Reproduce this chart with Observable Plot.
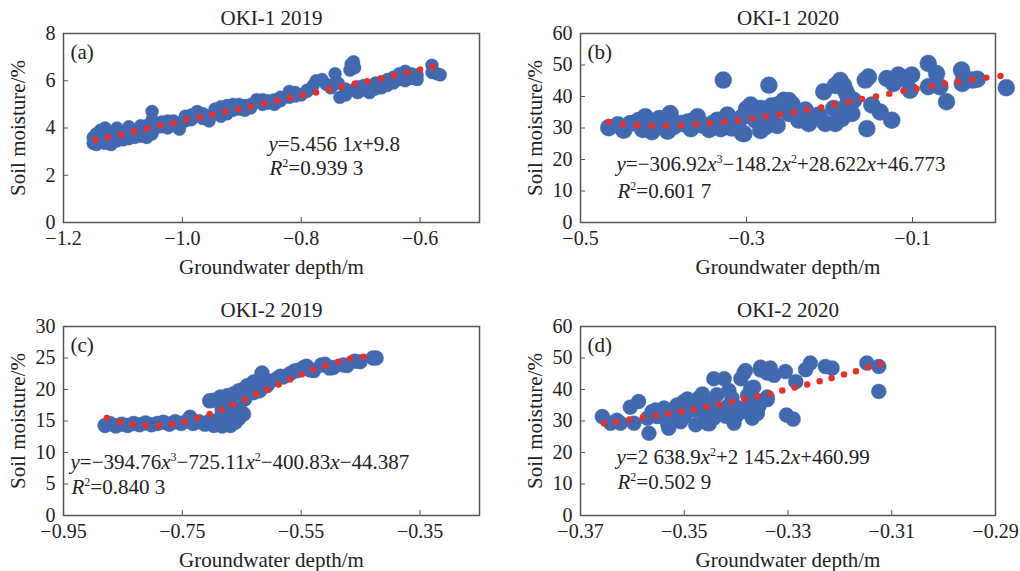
<!DOCTYPE html>
<html><head><meta charset="utf-8">
<script src="https://cdn.jsdelivr.net/npm/d3@7"></script>
<script src="https://cdn.jsdelivr.net/npm/@observablehq/plot@0.6"></script>
<style>
body{margin:0;background:#fff;}
#grid{display:grid;grid-template-columns:510px 510px;width:1020px;}
svg{display:block;}
</style></head><body><div id="grid"></div>
<script>
// ---------- Panel (a) OKI-1 2019 ----------
const a_title = "OKI-1 2019";
const a_xTicks = [-1.2, -1.0, -0.8, -0.6];
const a_yTicks = [0, 2, 4, 6, 8];
const a_points = [
  [-1.150,3.35],[-1.150,3.6],[-1.145,3.3],[-1.145,3.55],[-1.145,3.75],[-1.138,3.9],[-1.138,3.45],
  [-1.13,3.35],[-1.13,3.7],[-1.13,4.0],[-1.12,3.3],[-1.12,3.55],[-1.12,3.85],[-1.11,3.45],[-1.11,3.75],[-1.11,4.0],
  [-1.10,3.5],[-1.10,3.8],[-1.09,3.55],[-1.09,3.85],[-1.09,4.05],[-1.08,3.6],[-1.08,3.9],[-1.07,3.65],[-1.07,3.95],[-1.07,4.1],
  [-1.06,3.6],[-1.06,3.85],[-1.06,4.1],[-1.051,4.7],[-1.051,4.35],[-1.051,3.75],[-1.045,4.0],[-1.045,4.2],
  [-1.035,4.05],[-1.035,4.25],[-1.025,4.0],[-1.025,4.3],[-1.015,4.1],[-1.015,4.3],[-1.005,3.95],[-1.005,4.2],
  [-0.995,4.3],[-0.995,4.5],[-0.985,4.55],[-0.985,4.35],[-0.975,4.7],[-0.975,4.5],[-0.965,4.4],[-0.965,4.6],
  [-0.955,4.3],[-0.955,4.5],[-0.945,4.6],[-0.945,4.8],[-0.935,4.5],[-0.935,4.7],[-0.935,4.9],[-0.925,4.6],[-0.925,4.95],
  [-0.915,4.75],[-0.915,5.0],[-0.905,4.8],[-0.905,5.0],[-0.895,4.75],[-0.895,4.95],[-0.885,4.85],[-0.885,5.0],
  [-0.875,5.1],[-0.875,5.2],[-0.865,5.0],[-0.865,5.2],[-0.855,5.05],[-0.855,5.15],[-0.845,5.0],[-0.845,5.2],
  [-0.835,5.15],[-0.835,5.3],[-0.82,5.3],[-0.82,5.55],[-0.81,5.35],[-0.81,5.5],[-0.80,5.4],[-0.79,5.55],[-0.79,5.6],
  [-0.78,5.8],[-0.775,6.0],[-0.765,6.05],[-0.758,5.85],[-0.75,5.7],[-0.745,5.85],[-0.743,6.3],[-0.738,5.9],[-0.735,5.3],
  [-0.725,5.4],[-0.725,5.65],[-0.718,6.45],[-0.716,6.7],[-0.712,6.8],[-0.71,6.55],[-0.712,5.6],[-0.705,5.5],[-0.705,5.75],
  [-0.695,5.6],[-0.695,5.8],[-0.685,5.5],[-0.685,5.75],[-0.675,5.65],[-0.675,5.9],[-0.665,5.7],[-0.665,5.95],
  [-0.655,5.8],[-0.655,6.05],[-0.645,5.9],[-0.645,6.15],[-0.635,6.05],[-0.635,6.3],[-0.625,6.0],[-0.625,6.4],
  [-0.615,6.1],[-0.615,6.3],[-0.605,6.05],[-0.605,6.25],[-0.580,6.66],[-0.580,6.35],[-0.572,6.3],[-0.566,6.25]
];
const a_trend = [
  [-1.146,3.50],[-1.125,3.61],[-1.103,3.72],[-1.081,3.85],[-1.059,3.98],[-1.037,4.11],[-1.015,4.20],[-0.993,4.35],
  [-0.971,4.46],[-0.950,4.57],[-0.928,4.70],[-0.906,4.80],[-0.885,4.91],[-0.863,5.04],[-0.841,5.16],[-0.819,5.28],
  [-0.797,5.39],[-0.775,5.50],[-0.753,5.64],[-0.732,5.76],[-0.710,5.87],[-0.689,5.98],[-0.666,6.10],[-0.644,6.22],
  [-0.622,6.35],[-0.600,6.48],[-0.579,6.59]
];
const a_eq = "y=5.456 1x+9.8";
const a_r2 = "R²=0.939 3";

// ---------- Panel (b) OKI-1 2020 ----------
const b_title = "OKI-1 2020";
const b_xTicks = [-0.5, -0.3, -0.1];
const b_yTicks = [0, 10, 20, 30, 40, 50, 60];
const b_points = [
  [-0.466,30.1],[-0.455,31.0],[-0.448,29.3],[-0.440,31.4],[-0.430,32.4],[-0.425,29.5],[-0.422,33.6],[-0.414,28.8],
  [-0.408,30.9],[-0.405,33.0],[-0.400,32.5],[-0.395,29.0],[-0.392,34.6],[-0.388,30.4],[-0.378,31.4],[-0.370,32.0],
  [-0.367,29.8],[-0.359,33.6],[-0.353,30.9],[-0.345,29.5],[-0.341,31.4],[-0.335,32.5],[-0.331,29.8],[-0.328,45.2],
  [-0.323,34.1],[-0.318,30.0],[-0.311,31.4],[-0.305,28.3],[-0.305,33.5],[-0.303,28.2],[-0.300,36.0],[-0.299,35.7],
  [-0.295,37.3],[-0.292,36.5],[-0.289,32.5],[-0.283,36.2],[-0.283,29.2],[-0.279,33.5],[-0.277,30.4],[-0.273,43.6],
  [-0.270,37.0],[-0.269,35.1],[-0.263,37.3],[-0.263,30.8],[-0.255,38.8],[-0.249,38.7],[-0.249,34.6],[-0.245,37.5],
  [-0.237,32.5],[-0.229,35.7],[-0.225,31.4],[-0.213,34.1],[-0.207,41.5],[-0.205,31.4],[-0.195,36.2],[-0.193,31.4],
  [-0.193,43.5],[-0.189,44.1],[-0.187,45.1],[-0.185,33.0],[-0.183,43.5],[-0.181,42.0],[-0.179,37.3],[-0.179,40.8],
  [-0.173,34.6],[-0.171,38.8],[-0.157,45.2],[-0.155,29.8],[-0.153,46.2],[-0.149,37.3],[-0.139,35.1],[-0.131,45.7],
  [-0.125,32.5],[-0.123,44.1],[-0.117,46.8],[-0.111,45.7],[-0.103,42.0],[-0.101,46.8],[-0.081,50.5],[-0.081,43.1],
  [-0.071,47.3],[-0.067,43.1],[-0.059,38.3],[-0.041,48.4],[-0.040,44.1],[-0.038,46.2],[-0.028,45.2],[-0.022,45.5],
  [0.013,42.8]
];
const b_trend = [
  [-0.466,31.9],[-0.449,31.1],[-0.432,30.8],[-0.414,30.7],[-0.397,30.7],[-0.379,30.8],[-0.361,31.2],[-0.344,31.5],
  [-0.327,31.9],[-0.310,32.4],[-0.293,33.0],[-0.277,33.7],[-0.260,34.3],[-0.243,35.0],[-0.227,35.8],[-0.210,36.5],
  [-0.194,37.5],[-0.177,38.3],[-0.161,39.2],[-0.144,40.0],[-0.128,40.9],[-0.111,41.8],[-0.095,42.5],[-0.077,43.3],
  [-0.061,44.1],[-0.045,44.8],[-0.028,45.4],[-0.011,46.0],[0.006,46.5]
];
const b_eq = "y=−306.92x³−148.2x²+28.622x+46.773";
const b_r2 = "R²=0.601 7";

// ---------- Panel (c) OKI-2 2019 ----------
const c_title = "OKI-2 2019";
const c_xTicks = [-0.95, -0.75, -0.55, -0.35];
const c_yTicks = [0, 5, 10, 15, 20, 25, 30];
const c_points = [
  [-0.880,14.3],[-0.872,14.6],[-0.862,14.2],[-0.852,14.5],[-0.842,14.3],[-0.832,14.6],[-0.822,14.4],[-0.812,14.7],
  [-0.802,14.4],[-0.792,14.6],[-0.782,14.8],[-0.772,14.5],[-0.762,14.9],[-0.752,14.6],[-0.742,15.0],[-0.737,15.6],
  [-0.732,14.6],[-0.722,14.9],[-0.712,14.5],[-0.704,15.0],[-0.697,14.3],[-0.690,15.2],[-0.683,14.2],[-0.676,15.5],
  [-0.669,14.3],[-0.661,14.8],[-0.655,15.4],[-0.647,16.1],[-0.660,16.0],[-0.683,16.8],[-0.668,17.4],[-0.655,17.0],
  [-0.704,18.2],[-0.697,18.3],[-0.686,18.8],[-0.675,19.0],[-0.664,19.3],[-0.655,19.8],[-0.648,20.0],[-0.645,18.5],
  [-0.641,20.6],[-0.636,19.7],[-0.630,21.2],[-0.630,19.5],[-0.625,20.3],[-0.620,19.8],[-0.616,22.6],[-0.616,20.8],
  [-0.608,20.6],[-0.602,21.3],[-0.591,21.7],[-0.585,22.1],[-0.580,22.0],[-0.569,22.5],[-0.562,22.9],[-0.557,23.0],
  [-0.546,23.5],[-0.541,23.7],[-0.535,23.1],[-0.529,23.0],[-0.516,23.9],[-0.510,24.0],[-0.502,23.4],[-0.496,23.5],
  [-0.479,23.9],[-0.473,23.8],[-0.460,24.5],[-0.451,24.4],[-0.429,25.0],[-0.424,25.0]
];
const c_trend = [
  [-0.877,15.5],[-0.855,14.8],[-0.834,14.5],[-0.812,14.3],[-0.789,14.3],[-0.767,14.5],[-0.746,14.9],[-0.725,15.5],
  [-0.704,16.1],[-0.684,16.8],[-0.665,17.6],[-0.645,18.4],[-0.626,19.3],[-0.607,20.0],[-0.588,20.8],[-0.569,21.6],
  [-0.549,22.4],[-0.530,23.2],[-0.509,23.8],[-0.488,24.4],[-0.468,24.9],[-0.445,25.2]
];
const c_eq = "y=−394.76x³−725.11x²−400.83x−44.387";
const c_r2 = "R²=0.840 3";

// ---------- Panel (d) OKI-2 2020 ----------
const d_title = "OKI-2 2020";
const d_xTicks = [-0.37, -0.35, -0.33, -0.31, -0.29];
const d_yTicks = [0, 10, 20, 30, 40, 50, 60];
const d_points = [
  [-0.3658,31.4],[-0.3642,29.3],[-0.3630,30.2],[-0.3623,29.3],[-0.3604,34.4],[-0.3597,29.3],[-0.3588,36.2],
  [-0.3571,30.9],[-0.3568,26.1],[-0.3562,33.0],[-0.3555,33.5],[-0.3552,31.4],[-0.3539,34.1],[-0.3532,29.1],[-0.3530,27.7],
  [-0.3523,31.9],[-0.3514,35.1],[-0.3507,29.8],[-0.3501,36.2],[-0.3500,31.5],[-0.3494,33.0],[-0.3494,37.0],
  [-0.3485,34.6],[-0.3480,33.5],[-0.3478,28.8],[-0.3472,37.3],[-0.3465,38.6],[-0.3462,33.0],[-0.3460,31.0],
  [-0.3456,29.3],[-0.3453,35.7],[-0.3452,29.1],[-0.3443,30.9],[-0.3440,33.5],[-0.3443,43.4],[-0.3437,38.3],
  [-0.3423,43.4],[-0.3420,31.5],[-0.3417,34.6],[-0.3414,39.7],[-0.3408,37.3],[-0.3404,29.3],[-0.3401,31.3],
  [-0.3400,34.5],[-0.3395,32.5],[-0.3391,43.4],[-0.3385,45.2],[-0.3382,46.0],[-0.3380,33.0],[-0.3378,38.1],
  [-0.3376,35.7],[-0.3372,40.4],[-0.3369,30.9],[-0.3366,40.7],[-0.3360,36.5],[-0.3359,32.4],[-0.3356,34.6],
  [-0.3353,47.1],[-0.3353,46.2],[-0.3340,37.6],[-0.3340,45.2],[-0.3340,36.8],[-0.3334,46.8],[-0.3327,44.5],
  [-0.3305,45.7],[-0.3303,31.9],[-0.3290,30.6],[-0.3285,42.5],[-0.3266,46.3],[-0.3257,48.4],[-0.3228,47.3],
  [-0.3215,46.8],[-0.3148,48.4],[-0.3125,47.3],[-0.3125,39.4]
];
const d_trend = [
  [-0.3655,29.3],[-0.3631,29.8],[-0.3606,30.5],[-0.3580,31.1],[-0.3555,31.7],[-0.3531,32.4],[-0.3506,33.0],
  [-0.3482,33.7],[-0.3457,34.5],[-0.3432,35.2],[-0.3408,36.1],[-0.3384,37.0],[-0.3359,37.9],[-0.3335,38.6],
  [-0.3311,39.7],[-0.3287,40.6],[-0.3263,41.6],[-0.3239,42.6],[-0.3216,43.6],[-0.3192,44.8],[-0.3169,45.8],
  [-0.3145,47.1],[-0.3122,48.1]
];
const d_eq = "y=2 638.9x²+2 145.2x+460.99";
const d_r2 = "R²=0.502 9";

const xLabel = "Groundwater depth/m";
const yLabel = "Soil moisture/%";

const BLUE = "#4169b0";
const RED = "#e8302a";
const INK = "#222";

function richify(svg) {
  const NS = "http://www.w3.org/2000/svg";
  svg.querySelectorAll("text").forEach(t => {
    const s = t.textContent;
    if (!/^[yR].*=/.test(s)) return;
    t.textContent = "";
    let shifted = false;
    for (const ch of s) {
      const ts = document.createElementNS(NS, "tspan");
      if (ch === "²" || ch === "³") {
        ts.textContent = ch === "²" ? "2" : "3";
        ts.setAttribute("font-size", "12");
        ts.setAttribute("dy", "-8");
        shifted = true;
      } else {
        ts.textContent = ch;
        if (ch === "x" || ch === "y" || ch === "R") ts.setAttribute("font-style", "italic");
        if (shifted) { ts.setAttribute("dy", "8"); shifted = false; }
      }
      t.appendChild(ts);
    }
  });
}

function panel(cfg) {
  const fx = d3.format(cfg.fmt);
  const svg = Plot.plot({
    width: 510, height: cfg.height,
    marginLeft: cfg.ml, marginRight: cfg.mr, marginTop: cfg.mt, marginBottom: cfg.mb,
    style: {fontFamily: "'Liberation Serif','Times New Roman',serif", color: INK, background: "#fff", overflow: "visible"},
    x: {domain: cfg.xDomain},
    y: {domain: cfg.yDomain},
    marks: [
      Plot.dot(cfg.points, {x: d => d[0], y: d => d[1], r: cfg.r, fill: BLUE, stroke: BLUE, strokeOpacity: 0.35, strokeWidth: 1}),
      Plot.dot(cfg.trend, {x: d => d[0], y: d => d[1], r: 3.2, fill: RED}),
      Plot.frame({stroke: "#555", strokeWidth: 1.5}),
      Plot.axisX(cfg.xTicks, {tickSize: -5, tickPadding: 13, tickFormat: d => fx(d), label: null, fontSize: 20, stroke: "#555"}),
      Plot.axisY(cfg.yTicks, {tickSize: -5, tickPadding: 13, tickFormat: d => String(d), label: null, fontSize: 20, stroke: "#555"}),
      Plot.text([cfg.title], {frameAnchor: "top", dy: -cfg.titleGap, textAnchor: "middle", lineAnchor: "middle", fontSize: 21, fill: INK}),
      Plot.text([cfg.letter], {frameAnchor: "top-left", dx: 7, dy: 19, textAnchor: "start", lineAnchor: "middle", fontSize: 21, fill: INK}),
      Plot.text([cfg.eq], {frameAnchor: "top-left", dx: cfg.eqDx, dy: cfg.eqDy, textAnchor: "start", lineAnchor: "bottom", fontSize: 21, fill: INK}),
      Plot.text([cfg.r2], {frameAnchor: "top-left", dx: cfg.eqDx + 1, dy: cfg.r2Dy, textAnchor: "start", lineAnchor: "bottom", fontSize: 21, fill: INK}),
      Plot.text([xLabel], {frameAnchor: "bottom", dy: 45, textAnchor: "middle", lineAnchor: "middle", fontSize: 21, fill: INK}),
      Plot.text([yLabel], {frameAnchor: "left", dx: -45, rotate: -90, textAnchor: "middle", lineAnchor: "middle", fontSize: 21, fill: INK})
    ]
  });
  richify(svg);
  document.getElementById("grid").appendChild(svg);
}

panel({title: a_title, letter: "(a)", points: a_points, trend: a_trend, eq: a_eq, r2: a_r2,
  height: 285, ml: 63, mr: 31, mt: 33, mb: 63, xDomain: [-1.2, -0.5], yDomain: [0, 8],
  xTicks: a_xTicks, yTicks: a_yTicks, fmt: ".1f", r: 6.5, eqDx: 205, eqDy: 117, r2Dy: 141, titleGap: 15});
panel({title: b_title, letter: "(b)", points: b_points, trend: b_trend, eq: b_eq, r2: b_r2,
  height: 285, ml: 70, mr: 25, mt: 33, mb: 63, xDomain: [-0.5, 0], yDomain: [0, 60],
  xTicks: b_xTicks, yTicks: b_yTicks, fmt: ".1f", r: 8.5, eqDx: 36, eqDy: 137, r2Dy: 164, titleGap: 15});
panel({title: c_title, letter: "(c)", points: c_points, trend: c_trend, eq: c_eq, r2: c_r2,
  height: 286, ml: 63, mr: 31, mt: 41, mb: 56, xDomain: [-0.95, -0.25], yDomain: [0, 30],
  xTicks: c_xTicks, yTicks: c_yTicks, fmt: ".2f", r: 7.5, eqDx: 7, eqDy: 142, r2Dy: 167, titleGap: 16});
panel({title: d_title, letter: "(d)", points: d_points, trend: d_trend, eq: d_eq, r2: d_r2,
  height: 286, ml: 70, mr: 25, mt: 41, mb: 56, xDomain: [-0.37, -0.29], yDomain: [0, 60],
  xTicks: d_xTicks, yTicks: d_yTicks, fmt: ".2f", r: 7.5, eqDx: 36, eqDy: 137, r2Dy: 162, titleGap: 16});
</script></body></html>
